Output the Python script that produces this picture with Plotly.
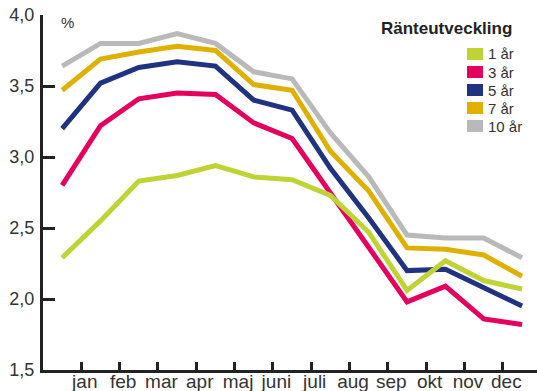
import plotly.graph_objects as go

# Month labels on the x axis; the series have 13 observations, one more than the labels
months = ["jan", "feb", "mar", "apr", "maj", "juni", "juli", "aug", "sep", "okt", "nov", "dec"]

series_names = ["1 år", "3 år", "5 år", "7 år", "10 år"]
rate_1y = [2.29, 2.55, 2.83, 2.87, 2.94, 2.86, 2.84, 2.73, 2.47, 2.06, 2.27, 2.13, 2.07]
rate_3y = [2.80, 3.22, 3.41, 3.45, 3.44, 3.24, 3.13, 2.75, 2.37, 1.98, 2.09, 1.86, 1.82]
rate_5y = [3.20, 3.52, 3.63, 3.67, 3.64, 3.40, 3.33, 2.92, 2.57, 2.20, 2.21, 2.08, 1.95]
rate_7y = [3.47, 3.69, 3.74, 3.78, 3.75, 3.51, 3.47, 3.04, 2.76, 2.36, 2.35, 2.31, 2.16]
rate_10y = [3.64, 3.80, 3.80, 3.87, 3.80, 3.60, 3.55, 3.17, 2.86, 2.45, 2.43, 2.43, 2.29]

colors = ["#bfd334", "#e6005e", "#1f3380", "#e0b000", "#b9b9b9"]
y_ticks = [1.5, 2.0, 2.5, 3.0, 3.5, 4.0]

all_series = [rate_1y, rate_3y, rate_5y, rate_7y, rate_10y]
x_pos = list(range(len(rate_1y)))

FONT = "Liberation Sans Narrow, Arial Narrow, Liberation Sans, Arial, sans-serif"
AXIS_COLOR = "#222222"
TEXT_COLOR = "#333333"

fig = go.Figure()

# Draw the longest maturity first so the short rates sit on top
for name, values, color in reversed(list(zip(series_names, all_series, colors))):
    fig.add_trace(go.Scatter(
        x=x_pos, y=values, name=name, mode="lines",
        line=dict(color=color, width=5),
        showlegend=False, hoverinfo="skip",
    ))

# Plot area in pixels (for placing the legend block in paper coordinates)
W, H = 537, 391
L, R, T, B = 43, 0, 15, 21
pw, ph = W - L - R, H - T - B


def px_x(x):
    return (x - L) / pw


def px_y(y):
    return (H - B - y) / ph


shapes = []
annotations = []

# Legend block: title plus coloured swatches
annotations.append(dict(
    text="<b>Ränteutveckling</b>", xref="paper", yref="paper",
    x=px_x(514), y=px_y(29), xanchor="right", yanchor="middle",
    showarrow=False, font=dict(family=FONT, size=17, color="#222222"),
))
for i, (name, color) in enumerate(zip(series_names, colors)):
    cy = 54 + 18 * i
    shapes.append(dict(
        type="rect", xref="paper", yref="paper",
        x0=px_x(467), x1=px_x(483), y0=px_y(cy - 6), y1=px_y(cy + 6),
        fillcolor=color, line=dict(width=0),
    ))
    annotations.append(dict(
        text=name, xref="paper", yref="paper",
        x=px_x(486), y=px_y(cy), xanchor="left", yanchor="middle",
        showarrow=False, font=dict(family=FONT, size=15, color=TEXT_COLOR),
    ))

# Unit label next to the top of the y axis
annotations.append(dict(
    text="%", xref="paper", yref="paper",
    x=px_x(59), y=px_y(23), xanchor="left", yanchor="middle",
    showarrow=False, font=dict(family=FONT, size=15, color=TEXT_COLOR),
))

# Tick marks sit between observations; month names sit just right of them
tick_marks = [i + 0.5 for i in range(len(months))]
label_pos = [i + 0.59 for i in range(len(months))]

fig.update_layout(
    width=W, height=H,
    margin=dict(l=L, r=R, t=T, b=B, pad=0),
    paper_bgcolor="white", plot_bgcolor="white",
    separators=", ",
    font=dict(family=FONT, size=16, color=TEXT_COLOR),
    shapes=shapes, annotations=annotations,
    showlegend=False,
    xaxis=dict(
        range=[-0.5, 12.39],
        tickvals=label_pos,
        ticktext=months,
        ticks="", ticklen=0,
        minor=dict(tickvals=tick_marks, ticks="inside", ticklen=8,
                   tickwidth=3, tickcolor=AXIS_COLOR, showgrid=False),
        showline=True, linecolor=AXIS_COLOR, linewidth=3,
        showgrid=False, zeroline=False, automargin=False,
        tickfont=dict(family=FONT, size=19, color=TEXT_COLOR),
        ticklabelstandoff=-8,
    ),
    yaxis=dict(
        range=[1.5, 4.0],
        tickvals=y_ticks, tickformat=".1f",
        ticks="inside", ticklen=12, tickwidth=3, tickcolor=AXIS_COLOR,
        showline=True, linecolor=AXIS_COLOR, linewidth=3,
        showgrid=False, zeroline=False, automargin=False,
        tickfont=dict(family=FONT, size=18, color=TEXT_COLOR),
        ticklabelstandoff=2,
    ),
)

fig.write_html("out.html")
